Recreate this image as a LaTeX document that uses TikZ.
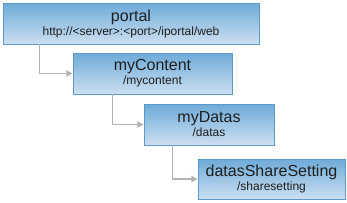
\documentclass[tikz,border=0pt]{standalone}
\usepackage{fontspec}
\setmainfont{Liberation Sans}
\usepackage{xcolor}
\definecolor{boxtop}{HTML}{6EABD8}
\definecolor{boxbot}{HTML}{CCDFF1}
\definecolor{boxline}{HTML}{5B9BCB}
\definecolor{linkgray}{HTML}{B2B2B2}
\usetikzlibrary{arrows.meta,calc}
\tikzset{
  >={Triangle[length=2.2mm,width=2.2mm]},
  pagebox/.style={draw=boxline, line width=0.9pt, top color=boxtop,
    bottom color=boxbot, inner sep=0pt, minimum height=41pt,
    align=center, text=black!88},
  link/.style={linkgray, line width=1.6pt, ->},
}
\newcommand{\boxtext}[2]{{\fontsize{16}{16}\selectfont #1}\\[1pt]%
  {\fontsize{12}{12}\selectfont #2}}

\begin{document}
\begin{tikzpicture}[x=1pt, y=-1pt]
\useasboundingbox (0,0) rectangle (347,202);
% pages
\node[pagebox, minimum width=256pt] (portal) at (131,23.5)
  {\boxtext{portal}{http://<server>:<port>/iportal/web}};
\node[pagebox, minimum width=159pt] (content) at (152.5,73.5)
  {\boxtext{myContent}{/mycontent}};
\node[pagebox, minimum width=130pt] (datas) at (209,124.5)
  {\boxtext{myDatas}{/datas}};
\node[pagebox, minimum width=147pt, minimum height=40pt] (share) at (271.5,179)
  {\boxtext{datasShareSetting}{/sharesetting}};
% links
\draw[link] ($(portal.south west)+(37,0)$) |- (content.west);
\draw[link] ($(content.south west)+(40,0)$) |- (datas.west);
\draw[link] ($(datas.south west)+(29,0)$) |- (share.west);
\end{tikzpicture}
\end{document}
